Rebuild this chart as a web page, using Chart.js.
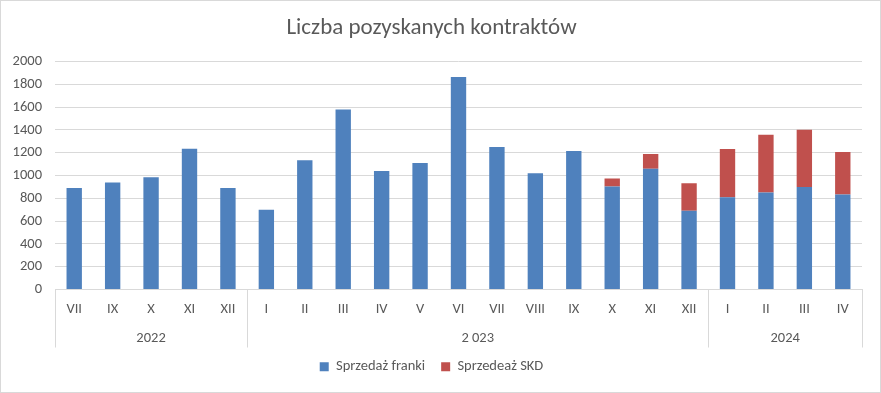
<!DOCTYPE html>
<html>
<head>
<meta charset="utf-8">
<script src="https://cdn.jsdelivr.net/npm/chart.js@4.4.0/dist/chart.umd.min.js"></script>
<style>
  html, body { margin: 0; padding: 0; background: #fff; }
  #wrap { width: 881px; height: 393px; box-sizing: border-box; border: 1px solid #d9d9d9; }
  #wrap canvas { display: block; }
</style>
</head>
<body>
<div id="wrap"><canvas id="chart" width="879" height="391"></canvas></div>
<script>
  // months and the years they belong to
  var months = ['VII', 'IX', 'X', 'XI', 'XII',
    'I', 'II', 'III', 'IV', 'V', 'VI', 'VII', 'VIII', 'IX', 'X', 'XI', 'XII',
    'I', 'II', 'III', 'IV'];
  var years = ['2022', '2 023', '2024'];
  var yearSizes = [5, 12, 4];

  var franki = [890, 940, 985, 1235, 890,
    700, 1135, 1580, 1040, 1110, 1865, 1250, 1020, 1215, 905, 1060, 692,
    810, 852, 899, 834];
  var skd = [0, 0, 0, 0, 0,
    0, 0, 0, 0, 0, 0, 0, 0, 0, 70, 130, 240,
    424, 506, 503, 373];

  var yTicks = [0, 200, 400, 600, 800, 1000, 1200, 1400, 1600, 1800, 2000];

  var textColor = '#595959';
  var lineColor = '#d9d9d9';
  var fontSize = 14.5;
  Chart.defaults.font.family = "Calibri, Carlito, 'Liberation Sans', Arial, sans-serif";
  Chart.defaults.color = textColor;

  // second row of the x axis: years and group separators
  var yearRow = {
    id: 'yearRow',
    afterDraw: function (chart) {
      var ctx = chart.ctx;
      var x = chart.scales.x;
      var half = (x.getPixelForValue(1) - x.getPixelForValue(0)) / 2;
      var top = chart.chartArea.bottom;
      var bottom = top + 58;
      ctx.save();
      ctx.strokeStyle = lineColor;
      ctx.lineWidth = 1;
      ctx.fillStyle = textColor;
      ctx.font = fontSize + "px " + Chart.defaults.font.family;
      ctx.textAlign = 'center';
      ctx.textBaseline = 'middle';
      var start = 0;
      for (var g = 0; g < years.length; g++) {
        var end = start + yearSizes[g] - 1;
        var left = Math.round(x.getPixelForValue(start) - half) + 0.5;
        ctx.beginPath();
        ctx.moveTo(left, top);
        ctx.lineTo(left, bottom);
        ctx.stroke();
        var cx = (x.getPixelForValue(start) + x.getPixelForValue(end)) / 2;
        ctx.fillText(years[g], cx, top + 49);
        start = end + 1;
      }
      var right = Math.round(x.getPixelForValue(start - 1) + half) + 0.5;
      ctx.beginPath();
      ctx.moveTo(right, top);
      ctx.lineTo(right, bottom);
      ctx.stroke();
      ctx.restore();
    }
  };

  new Chart(document.getElementById('chart'), {
    type: 'bar',
    data: {
      labels: months,
      datasets: [{
        label: 'Sprzedaż franki',
        data: franki,
        backgroundColor: '#4F81BD'
      }, {
        label: 'Sprzedeaż SKD',
        data: skd,
        backgroundColor: '#C0504D'
      }]
    },
    options: {
      responsive: false,
      animation: false,
      layout: { padding: { left: 0, right: 18, top: 0, bottom: 8 } },
      datasets: {
        bar: { categoryPercentage: 1, barPercentage: 0.4 }
      },
      plugins: {
        title: {
          display: true,
          text: 'Liczba pozyskanych kontraktów',
          color: textColor,
          font: { size: 23, weight: 'normal' },
          padding: { top: 13, bottom: 20 }
        },
        legend: {
          position: 'bottom',
          labels: {
            boxWidth: 9,
            boxHeight: 9,
            padding: 16,
            color: textColor,
            font: { size: fontSize }
          }
        },
        tooltip: { enabled: false }
      },
      scales: {
        x: {
          stacked: true,
          grid: { display: false, drawTicks: false },
          border: { display: true, color: lineColor },
          ticks: { padding: 11, font: { size: fontSize }, color: textColor, maxRotation: 0, autoSkip: false },
          afterFit: function (scale) { scale.height = 54; }
        },
        y: {
          stacked: true,
          min: 0,
          max: 2000,
          afterBuildTicks: function (scale) {
            scale.ticks = yTicks.map(function (v) { return { value: v }; });
          },
          grid: { color: lineColor, drawTicks: false },
          border: { display: false },
          ticks: {
            padding: 13,
            font: { size: fontSize },
            color: textColor,
            callback: function (v) { return String(v); }
          },
          afterFit: function (scale) { scale.width = 54; }
        }
      }
    },
    plugins: [yearRow]
  });
</script>
</body>
</html>
